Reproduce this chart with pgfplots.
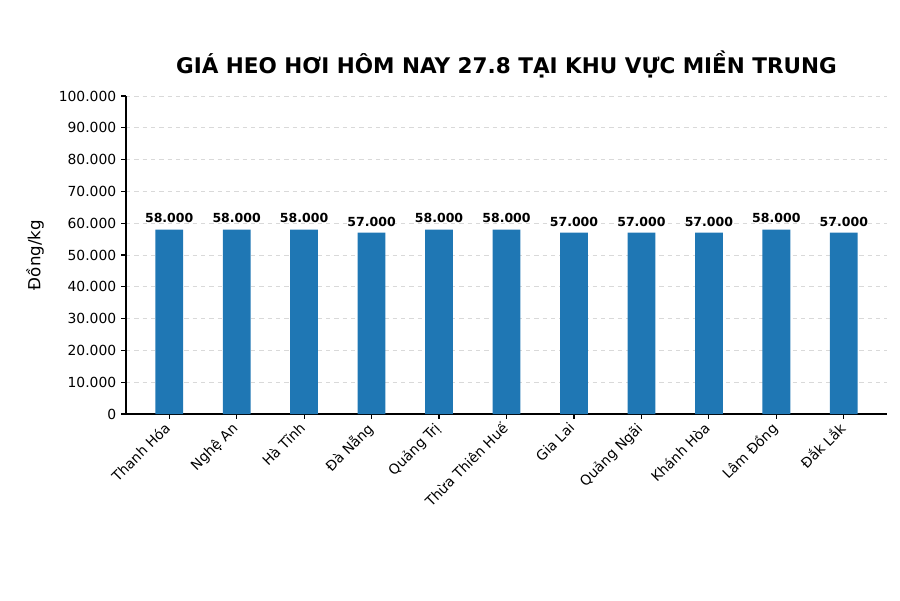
\documentclass[border=0pt]{standalone}
\usepackage{pgfplots}
\pgfplotsset{compat=1.18}
\usepackage{fontspec}
\setmainfont{DejaVu Sans}
\definecolor{barblue}{HTML}{1F77B4}

\begin{document}
\begin{tikzpicture}[x=1pt,y=1pt]
\path (0,0) rectangle (648,432);
\begin{axis}[
  at={(90.72pt,133.92pt)}, anchor=south west,
  scale only axis, width=547.92pt, height=228.96pt,
  ybar, bar width=20pt,
  xmin=-0.64, xmax=10.64,
  ymin=0, ymax=100000,
  ytick={0,10000,...,100000},
  scaled y ticks=false,
  xtick={0,...,10},
  xticklabels={Thanh Hóa, Nghệ An, Hà Tĩnh, Đà Nẵng, Quảng Trị, Thừa Thiên Huế, Gia Lai, Quảng Ngãi, Khánh Hòa, Lâm Đồng, Đắk Lắk},
  xticklabel style={xshift=-4.3pt, yshift=3.2pt, rotate=45, anchor=north east, font=\fontsize{10}{12}\selectfont},
  yticklabel style={font=\fontsize{10}{12}\selectfont, /pgf/number format/fixed, /pgf/number format/1000 sep={.}},
  /pgf/number format/assume math mode=true,
  axis lines*=left,
  axis line style={line width=0.8pt},
  tick align=outside,
  major tick length=3.5pt,
  tick style={line width=0.8pt, black},
  ymajorgrids,
  grid style={dashed, gray!30, line width=0.5pt},
  ylabel={Đồng/kg},
  ylabel style={font=\fontsize{12}{14}\selectfont, anchor=center, at={(axis description cs:-0.1195,0.5)}},
  title={\textbf{GIÁ HEO HƠI HÔM NAY 27.8 TẠI KHU VỰC MIỀN TRUNG}},
  title style={font=\fontsize{15.5}{18}\selectfont, at={(axis description cs:0.5,1)}, yshift=3.5pt},
  nodes near coords={\pgfmathprintnumber[fixed,1000 sep={.},assume math mode=true]{\pgfplotspointmeta}},
  nodes near coords style={font=\bfseries\fontsize{9}{11}\selectfont, black, inner sep=2pt, yshift=2.5pt},
]
\addplot[fill=barblue, draw=none] coordinates {
  (0,58000) (1,58000) (2,58000) (3,57000) (4,58000) (5,58000)
  (6,57000) (7,57000) (8,57000) (9,58000) (10,57000)
};
\end{axis}
\end{tikzpicture}
\end{document}
